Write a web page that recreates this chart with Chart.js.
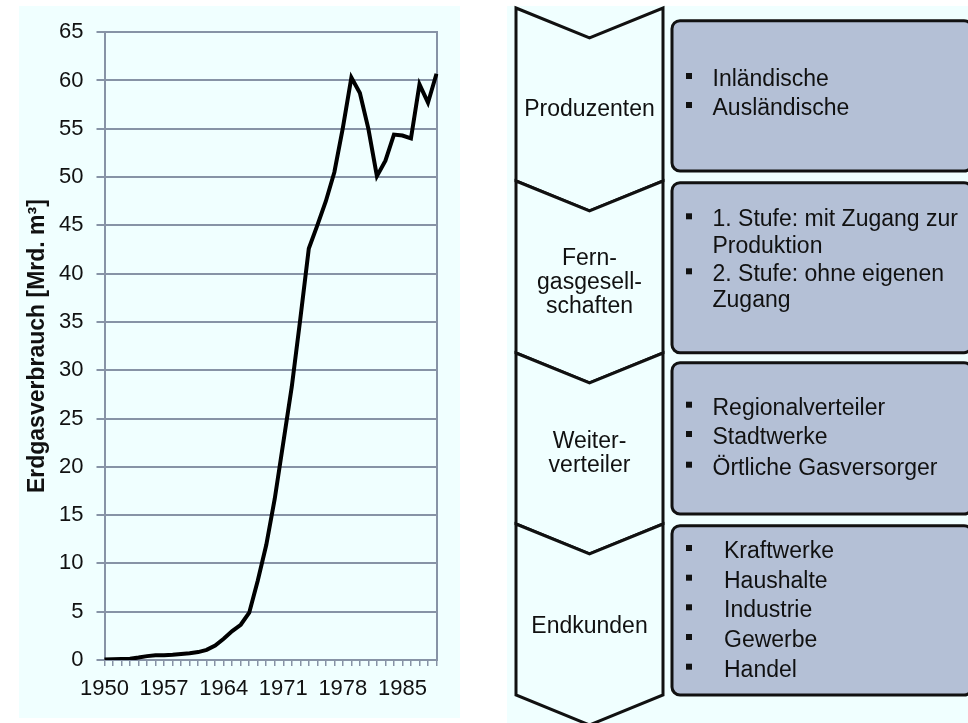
<!DOCTYPE html>
<html>
<head>
<meta charset="utf-8">
<script src="https://cdn.jsdelivr.net/npm/chart.js@4"></script>
<style>
  html, body { margin: 0; padding: 0; background: #fff; }
  body { width: 968px; height: 723px; position: relative; overflow: hidden; font-family: "Liberation Sans", Arial, sans-serif; }
  #chartBox { position: absolute; left: 19px; top: 6px; width: 441px; height: 712px; background: #f0ffff; }
  #rightBox { position: absolute; left: 507px; top: 6px; width: 461px; height: 717px; background: #f0ffff; }
  #diagram { position: absolute; left: 0; top: 0; }
</style>
</head>
<body>
<div id="chartBox"><canvas id="gasChart"></canvas></div>
<div id="rightBox"></div>
<svg id="diagram" width="968" height="723" xmlns="http://www.w3.org/2000/svg"></svg>

<script>
// --- chart data ---
const years = [
  '1950','1951','1952','1953','1954','1955','1956','1957','1958','1959',
  '1960','1961','1962','1963','1964','1965','1966','1967','1968','1969',
  '1970','1971','1972','1973','1974','1975','1976','1977','1978','1979',
  '1980','1981','1982','1983','1984','1985','1986','1987','1988','1989'
];
const consumption = [
  0.05, 0.08, 0.1, 0.12, 0.25, 0.4, 0.5, 0.5, 0.55, 0.62,
  0.7, 0.82, 1.05, 1.5, 2.2, 3.0, 3.65, 4.9, 8.2, 11.9,
  16.7, 22.5, 28.3, 35.3, 42.6, 45.0, 47.5, 50.5, 55.1, 60.3,
  58.7, 55.0, 50.1, 51.7, 54.4, 54.3, 54.0, 59.6, 57.7, 60.7
];
const xTickLabels = ['1950', '1957', '1964', '1971', '1978', '1985'];
const yMin = 0, yMax = 65, yStep = 5;
const yTitle = 'Erdgasverbrauch [Mrd. m³]';

// --- diagram text ---
const stages = [
  ['Produzenten'],
  ['Fern-', 'gasgesell-', 'schaften'],
  ['Weiter-', 'verteiler'],
  ['Endkunden']
];
const stageItems = [
  [['Inländische'], ['Ausländische']],
  [['1. Stufe: mit Zugang zur', 'Produktion'], ['2. Stufe: ohne eigenen', 'Zugang']],
  [['Regionalverteiler'], ['Stadtwerke'], ['Örtliche Gasversorger']],
  [['Kraftwerke'], ['Haushalte'], ['Industrie'], ['Gewerbe'], ['Handel']]
];

const gridColor = '#8793a6';
const textColor = '#111';

new Chart(document.getElementById('gasChart'), {
  type: 'line',
  data: {
    labels: years,
    datasets: [{
      data: consumption,
      borderColor: '#000',
      borderWidth: 4,
      pointRadius: 0,
      tension: 0,
      fill: false
    }]
  },
  options: {
    responsive: true,
    maintainAspectRatio: false,
    animation: false,
    layout: { padding: { top: 25, right: 23.5, bottom: 0, left: 0 } },
    plugins: { legend: { display: false }, tooltip: { enabled: false } },
    scales: {
      x: {
        offset: false,
        grid: { display: true, drawOnChartArea: false, drawTicks: true, tickLength: 6, color: gridColor, lineWidth: 1.5 },
        border: { display: true, color: gridColor, width: 2 },
        ticks: {
          autoSkip: false,
          maxRotation: 0,
          padding: 10,
          color: textColor,
          font: { family: 'Liberation Sans, Arial, sans-serif', size: 22 },
          callback: function (v, i) {
            const lab = this.getLabelForValue(v);
            return xTickLabels.includes(lab) ? lab : '';
          }
        },
        afterFit: s => { s.height = 58; }
      },
      y: {
        min: yMin,
        max: yMax,
        grid: { color: gridColor, lineWidth: 2, tickLength: 8 },
        border: { display: true, color: gridColor, width: 2 },
        ticks: {
          stepSize: yStep,
          padding: 13,
          color: textColor,
          font: { family: 'Liberation Sans, Arial, sans-serif', size: 22 }
        },
        title: {
          display: true,
          text: yTitle,
          color: textColor,
          padding: { top: 5, bottom: 0 },
          font: { family: 'Liberation Sans, Arial, sans-serif', size: 23, weight: 'bold' }
        },
        afterFit: s => { s.width = 85.5; }
      },
      yRight: {
        position: 'right',
        min: yMin,
        max: yMax,
        grid: { display: false },
        ticks: { display: false },
        border: { display: true, color: gridColor, width: 2 },
        afterFit: s => { s.width = 0; }
      }
    }
  }
});

// --- flow diagram on the right ---
const svg = document.getElementById('diagram');
const NS = 'http://www.w3.org/2000/svg';
function el(tag, attrs, text) {
  const e = document.createElementNS(NS, tag);
  for (const k in attrs) e.setAttribute(k, attrs[k]);
  if (text !== undefined) e.textContent = text;
  svg.appendChild(e);
  return e;
}

const chevEdges = [8, 181, 353, 524, 695];
const chevDepth = 30, chevL = 516, chevR = 663, chevC = 589.5;
const stageTextY = [[108], [257, 281, 305], [440, 464], [625]];

const boxes = [[20.7, 171], [182.7, 352.7], [362.7, 514], [525.7, 695]];
const itemTextY = [
  [[78], [107]],
  [[218.3, 245], [273.3, 299.3]],
  [[406.7], [436], [466.7]],
  [[550], [579.7], [609.3], [639], [668.7]]
];
const itemTextX = [712.5, 712.5, 712.5, 724];

stages.forEach((lines, i) => {
  const t = chevEdges[i], b = chevEdges[i + 1];
  const pts = [
    [chevL, t], [chevC, t + chevDepth], [chevR, t],
    [chevR, b], [chevC, b + chevDepth], [chevL, b]
  ].map(p => p.join(',')).join(' ');
  el('polygon', { points: pts, fill: '#f0ffff', stroke: '#111', 'stroke-width': 3, 'stroke-linejoin': 'miter' });
});
stages.forEach((lines, i) => {
  lines.forEach((ln, j) => {
    el('text', {
      x: chevC, y: stageTextY[i][j], 'text-anchor': 'middle', 'dominant-baseline': 'central',
      'font-family': 'Liberation Sans, Arial, sans-serif', 'font-size': 23, fill: textColor
    }, ln);
  });
});

boxes.forEach(([top, bot], i) => {
  el('rect', { x: 672, y: top, width: 300, height: bot - top, rx: 8, ry: 8, fill: '#b4c0d6', stroke: '#111', 'stroke-width': 3 });
  stageItems[i].forEach((item, k) => {
    const ys = itemTextY[i][k];
    el('rect', { x: 686, y: ys[0] - 5, width: 6, height: 6, fill: '#111' });
    item.forEach((ln, j) => {
      el('text', {
        x: itemTextX[i], y: ys[j], 'dominant-baseline': 'central',
        'font-family': 'Liberation Sans, Arial, sans-serif', 'font-size': 23, fill: textColor
      }, ln);
    });
  });
});
</script>
</body>
</html>
